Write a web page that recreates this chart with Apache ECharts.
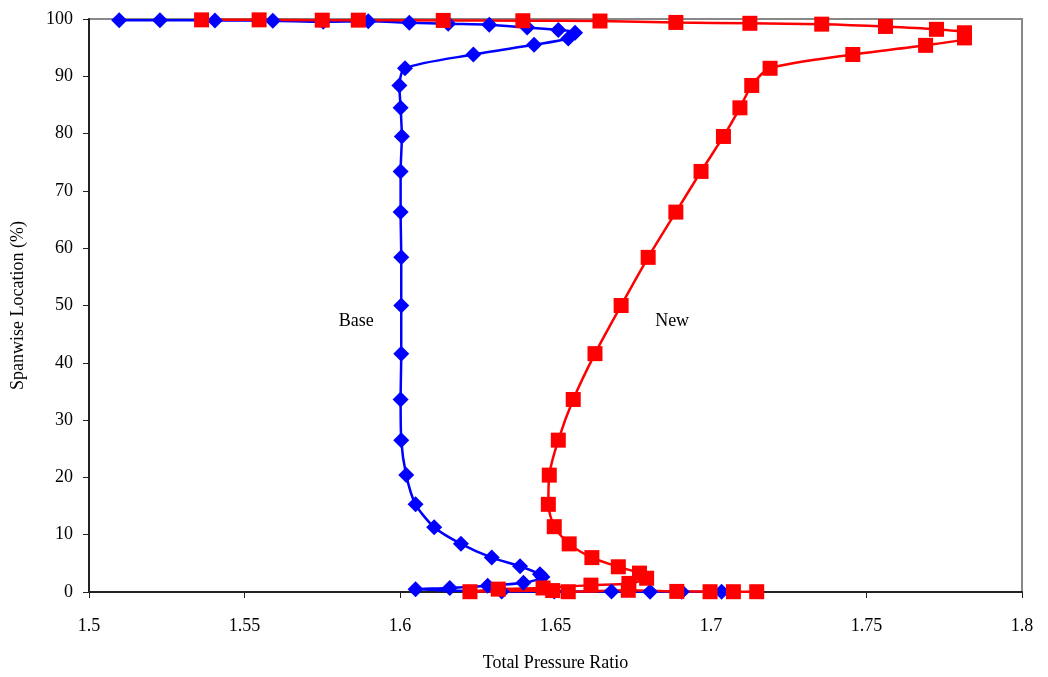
<!DOCTYPE html>
<html>
<head>
<meta charset="utf-8">
<script src="https://cdn.jsdelivr.net/npm/echarts@6/dist/echarts.min.js"></script>
<style>
html,body{margin:0;padding:0;background:#fff;}
#chart{width:1048px;height:677px;}
</style>
</head>
<body>
<div id="chart"></div>
<script>
// ---- data ----
var baseX = [1.5097, 1.5228, 1.5405, 1.5591, 1.5753, 1.5898, 1.6030, 1.6155, 1.6287, 1.6409, 1.6509, 1.6563, 1.6541, 1.6431, 1.6236, 1.6016, 1.5998, 1.6002, 1.6006, 1.6002, 1.6002, 1.6004, 1.6004, 1.6004, 1.6002, 1.6004, 1.6020, 1.6050, 1.6110, 1.6196, 1.6295, 1.6386, 1.6450, 1.6458, 1.6397, 1.6282, 1.6160, 1.6050, 1.6327, 1.6496, 1.6680, 1.6804, 1.6906, 1.7034];
var baseY = [99.8, 99.8, 99.75, 99.7, 99.5, 99.6, 99.35, 99.15, 99.0, 98.5, 98.1, 97.6, 96.6, 95.5, 93.8, 91.4, 88.4, 84.5, 79.5, 73.4, 66.3, 58.4, 50.0, 41.6, 33.6, 26.5, 20.4, 15.3, 11.3, 8.4, 6.0, 4.5, 3.1, 2.6, 1.6, 1.1, 0.7, 0.5, 0.1, 0.1, 0.1, 0.05, 0.05, 0.05];

var newX = [1.5362, 1.5547, 1.5750, 1.5866, 1.6139, 1.6395, 1.6643, 1.6887, 1.7125, 1.7356, 1.7561, 1.7725, 1.7815, 1.7815, 1.7690, 1.7456, 1.7190, 1.7131, 1.7093, 1.7040, 1.6968, 1.6887, 1.6798, 1.6711, 1.6627, 1.6557, 1.6509, 1.6480, 1.6477, 1.6496, 1.6544, 1.6617, 1.6702, 1.6770, 1.6793, 1.6736, 1.6614, 1.6460, 1.6316, 1.6225, 1.6491, 1.6541, 1.6734, 1.6890, 1.6997, 1.7072, 1.7147];
var newY = [99.85, 99.85, 99.8, 99.8, 99.75, 99.7, 99.65, 99.4, 99.25, 99.1, 98.7, 98.2, 97.6, 96.7, 95.4, 93.8, 91.4, 88.4, 84.5, 79.5, 73.4, 66.3, 58.4, 50.0, 41.6, 33.6, 26.5, 20.4, 15.3, 11.4, 8.4, 6.0, 4.4, 3.3, 2.4, 1.5, 1.2, 0.7, 0.5, 0.05, 0.25, 0.05, 0.3, 0.1, 0.05, 0.05, 0.05];

var seriesNames = ['Base', 'New'];
var labelPos = [[1.5859, 47.3], [1.6875, 47.3]];
var xTicks = {min: 1.5, max: 1.8, step: 0.05};
var yTicks = {min: 0, max: 100, step: 10};
var xTitle = 'Total Pressure Ratio';
var yTitle = 'Spanwise Location (%)';

function zip(xs, ys) { return xs.map(function (x, i) { return [x, ys[i]]; }); }

var FONT = '"Liberation Serif", "DejaVu Serif", serif';
var txt = {color: '#000', fontFamily: FONT, fontSize: 18};

var chart = echarts.init(document.getElementById('chart'), null, {renderer: 'canvas'});
chart.setOption({
  animation: false,
  backgroundColor: '#fff',
  grid: {left: 89, right: 26, top: 19, bottom: 85, show: true, borderColor: '#888', borderWidth: 2, backgroundColor: 'transparent'},
  xAxis: {
    type: 'value', min: xTicks.min, max: xTicks.max, interval: xTicks.step,
    name: xTitle, nameLocation: 'middle', nameGap: 62,
    nameTextStyle: txt,
    axisLine: {show: true, onZero: false, lineStyle: {color: '#222', width: 2}},
    axisTick: {show: true, inside: false, length: 6, lineStyle: {color: '#222', width: 1}},
    axisLabel: Object.assign({margin: 25, formatter: function (v) { return String(+v.toFixed(2)); }}, txt),
    splitLine: {show: false}
  },
  yAxis: {
    type: 'value', min: yTicks.min, max: yTicks.max, interval: yTicks.step,
    name: yTitle, nameLocation: 'middle', nameGap: 62, nameRotate: 90,
    nameTextStyle: txt,
    axisLine: {show: true, onZero: false, lineStyle: {color: '#222', width: 2}},
    axisTick: {show: true, inside: false, length: 6, lineStyle: {color: '#222', width: 1}},
    axisLabel: Object.assign({margin: 16}, txt),
    splitLine: {show: false}
  },
  series: [
    {
      name: seriesNames[0], type: 'line', data: zip(baseX, baseY),
      smooth: 0.25, symbol: 'diamond', symbolSize: 16,
      lineStyle: {color: '#0000FF', width: 2.5},
      itemStyle: {color: '#0000FF'},
      markPoint: {symbol: 'circle', symbolSize: 0, data: [{coord: labelPos[0], value: seriesNames[0]}],
        label: Object.assign({show: true, position: 'inside', formatter: seriesNames[0]}, txt)}
    },
    {
      name: seriesNames[1], type: 'line', data: zip(newX, newY),
      smooth: 0.25, symbol: 'rect', symbolSize: 15,
      lineStyle: {color: '#FF0000', width: 2.5},
      itemStyle: {color: '#FF0000'},
      markPoint: {symbol: 'circle', symbolSize: 0, data: [{coord: labelPos[1], value: seriesNames[1]}],
        label: Object.assign({show: true, position: 'inside', formatter: seriesNames[1]}, txt)}
    }
  ]
});
</script>
</body>
</html>
